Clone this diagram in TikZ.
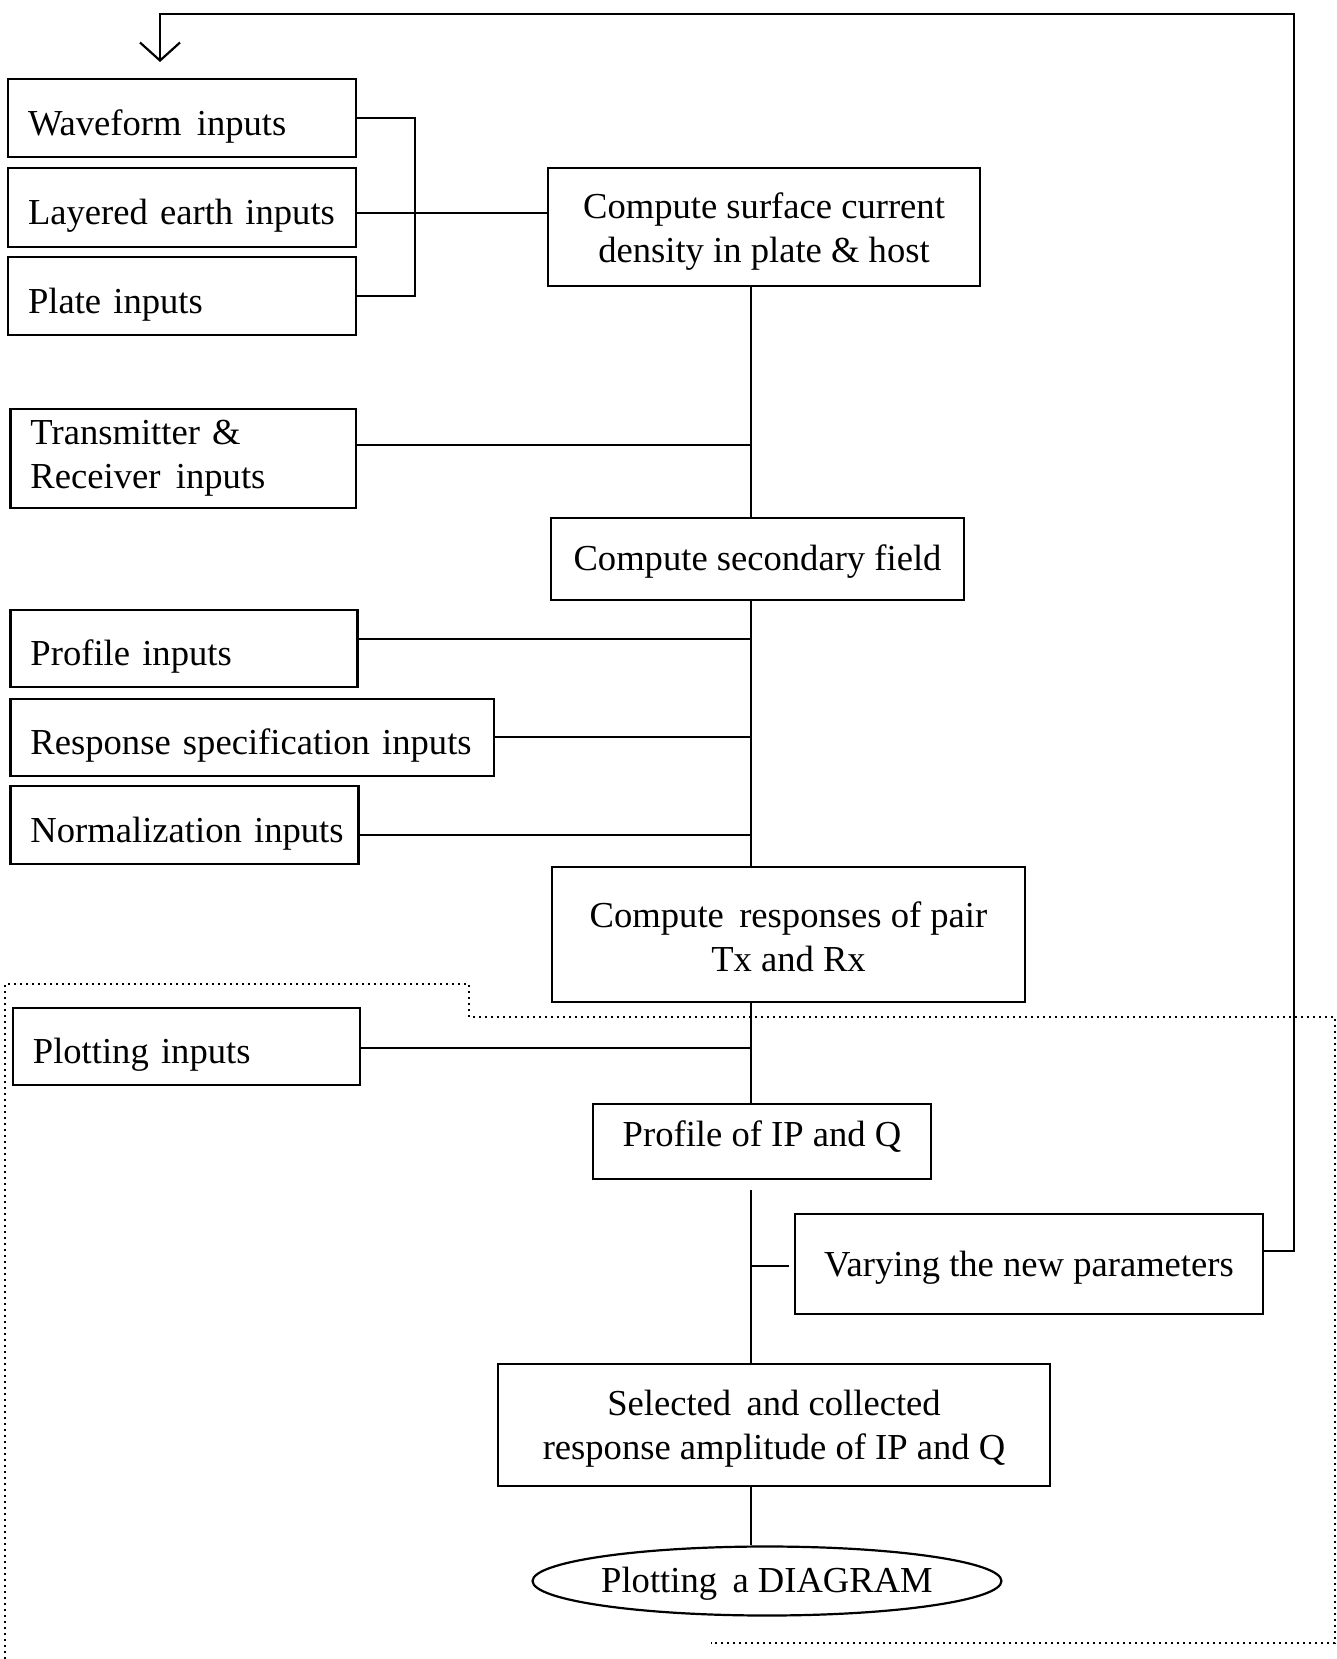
\documentclass[tikz,border=0pt]{standalone}
\usepackage{fontspec}
\setmainfont{Liberation Serif}
\usetikzlibrary{arrows.meta,shapes.geometric}
% a slightly wide word gap, as used in several labels
\newcommand\wgap{\hspace{0.42em}}
\begin{document}
\begin{tikzpicture}[x=0.5pt,y=-0.5pt,
  every node/.style={font=\fontsize{18.3}{22}\selectfont},
  box/.style={draw, line width=1.3pt, rectangle, inner ysep=0pt},
  inbox/.style={box, inner xsep=10pt, text width=#1, align=left},
  oneline/.style={text height=21pt, text depth=4pt},
  cbox/.style={box, align=center, inner xsep=0pt},
  link/.style={line width=1.1pt},
  frame/.style={line width=0.9pt, dash pattern=on 0.8pt off 2.2pt}]
\useasboundingbox (0,0) rectangle (1337,1659);

% input boxes on the left
\node[inbox=154pt, oneline, minimum height=39pt]   (wave)   at (182,118)    {\mbox{Waveform\wgap inputs}};
\node[inbox=154pt, oneline, minimum height=39.5pt] (layer)  at (182,207.5)  {\mbox{Layered earth inputs}};
\node[inbox=154pt, oneline, minimum height=39pt]   (plate)  at (182,296)    {\mbox{Plate inputs}};
\node[inbox=152.75pt, minimum height=49.5pt] (trans) at (183.25,458.5) {\mbox{Transmitter \&}\\\mbox{Receiver\wgap inputs}};
\node[inbox=153.5pt, oneline, minimum height=38.5pt] (profin) at (184,648.5)  {\mbox{Profile inputs}};
\node[inbox=221.75pt, oneline, minimum height=38.5pt] (resp)  at (252.25,737.5) {\mbox{Response specification inputs}};
\node[inbox=154pt, oneline, minimum height=39pt]   (norm)   at (184.5,825)  {\mbox{Normalization inputs}};
\node[inbox=153.5pt, oneline, minimum height=38.5pt] (plotin) at (186.4,1046.5) {\mbox{Plotting inputs}};

% processing chain
\node[cbox, text height=40pt, text depth=4.5pt, minimum width=216pt, minimum height=59pt] (surf) at (764,227) {Compute surface current\\density in plate \& host};
\node[cbox, text height=15.8pt, text depth=4.5pt, minimum width=206.5pt, minimum height=41pt] (sec) at (757.5,559) {Compute secondary field};
\node[cbox, text height=37.2pt, text depth=0pt, minimum width=236.5pt, minimum height=67.5pt] (resps) at (788.5,934.5) {Compute\wgap responses of pair\\Tx and Rx};
\node[cbox, text height=12.8pt, text depth=8pt, minimum width=169pt, minimum height=37.5pt] (prof) at (762,1141.5) {Profile of IP and Q};
\node[cbox, text height=16.8pt, text depth=4.5pt, minimum width=234pt, minimum height=50pt] (vary) at (1029,1264) {Varying the new parameters};
\node[cbox, text height=38.6pt, text depth=4.5pt, minimum width=276pt, minimum height=61pt] (sel) at (774,1425) {Selected\wgap and collected\\response amplitude of IP and Q};
\node[draw, ellipse, text height=15.8pt, text depth=4.5pt, line width=1.1pt, inner sep=0pt, minimum width=227.5pt, minimum height=34.5pt] (ell) at (767,1581) {Plotting\wgap a DIAGRAM};

% spine and junction points
\coordinate (s1) at (751,0);
\coordinate (j0) at (414,213);
\coordinate (j1) at (751,445);
\coordinate (j2) at (751,639);
\coordinate (j3) at (751,737);
\coordinate (j4) at (751,835);
\coordinate (j5) at (751,1048);
\coordinate (g1) at (751,1190);
\coordinate (j6) at (751,1266);
\coordinate (j7) at (1294,1251);
\coordinate (t1) at (1294,14);
\coordinate (t2) at (160,62);

% bracket joining the first three inputs
\draw[link] (wave.east) -- ++(58,0) |- (plate.east);
\draw[link] (j0 -| layer.east) -- (j0 -| surf.west);

\draw[link] (surf.south -| s1) -- (sec.north -| s1);
\draw[link] (j1 -| trans.east) -- (j1);
\draw[link] (sec.south -| s1) -- (resps.north -| s1);
\draw[link] (j2 -| profin.east) -- (j2);
\draw[link] (j3 -| resp.east) -- (j3);
\draw[link] (j4 -| norm.east) -- (j4);
\draw[link] (resps.south -| s1) -- (prof.north -| s1);
\draw[link] (j5 -| plotin.east) -- (j5);
\draw[link] (g1) -- (sel.north -| g1);
\draw[link, shorten >=2.5pt] (j6) -- (j6 -| vary.west);
\draw[link] (sel.south -| s1) -- (ell.north -| s1);

% feedback loop back to the inputs
\draw[link, -{Straight Barb[length=9pt,width=20pt,line width=1.1pt]}]
  (j7 -| vary.east) -- (j7) -- (t1) -| (t2);

% dotted frame round the plotting stage
\draw[frame] (5,1659) -- (5,984) -- (469,984) -- (469,1017) -- (1335,1017) -- (1335,1643) -- (711,1643);
\end{tikzpicture}
\end{document}
